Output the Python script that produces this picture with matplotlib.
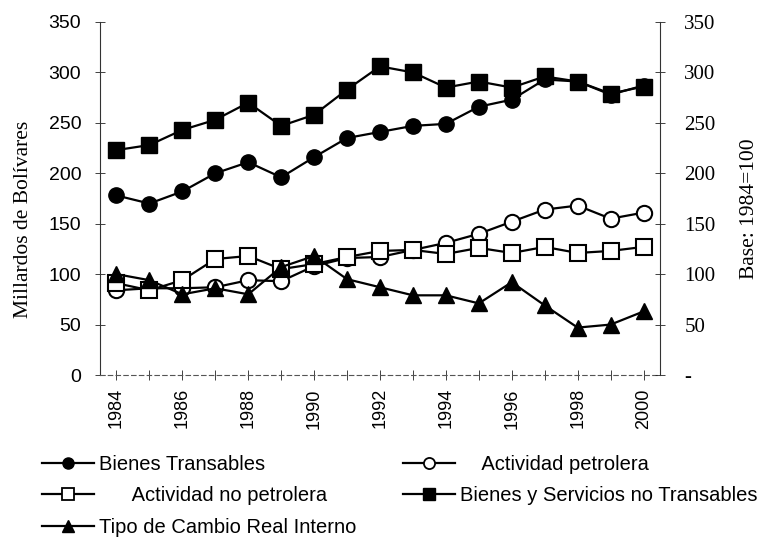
import matplotlib
matplotlib.use("Agg")
import matplotlib.pyplot as plt
from matplotlib.lines import Line2D

# datos
years = list(range(1984, 2001))
bienes_transables = [178, 170, 182, 200, 211, 196, 216, 235, 241, 247, 249, 266, 273, 293, 291, 278, 287]
actividad_petrolera = [84, 86, 86, 87, 94, 93, 108, 116, 117, 124, 131, 140, 152, 164, 168, 155, 161]
actividad_no_petrolera = [91, 84, 94, 115, 118, 105, 110, 117, 123, 124, 120, 126, 121, 127, 121, 123, 127]
no_transables = [223, 228, 243, 253, 270, 247, 258, 283, 306, 300, 285, 291, 285, 296, 291, 279, 286]
tipo_cambio = [100, 94, 80, 86, 80, 107, 118, 95, 87, 79, 79, 71, 92, 69, 47, 50, 63]

labels = ["Bienes Transables", "    Actividad petrolera", "      Actividad no petrolera",
          "Bienes y Servicios no Transables", "Tipo de Cambio Real Interno"]
y_ticks = [0, 50, 100, 150, 200, 250, 300, 350]

sans = "Liberation Sans"
serif = "Liberation Serif"

fig = plt.figure(figsize=(7.63, 5.53), dpi=100)
ax = fig.add_axes([100 / 763, 1 - 375 / 553, 560 / 763, 353 / 553])

lw = 1.6
ms = 11
ax.plot(years, bienes_transables, color="black", lw=lw, marker="o", ms=ms,
        mfc="black", mec="black", zorder=3)
ax.plot(years, actividad_petrolera, color="black", lw=lw, marker="o", ms=ms,
        mfc="white", mec="black", mew=1.5, zorder=3)
ax.plot(years, actividad_no_petrolera, color="black", lw=lw, marker="s", ms=ms,
        mfc="white", mec="black", mew=1.5, zorder=3)
ax.plot(years, no_transables, color="black", lw=lw, marker="s", ms=ms,
        mfc="black", mec="black", zorder=3)
ax.plot(years, tipo_cambio, color="black", lw=lw, marker="^", ms=ms + 1,
        mfc="black", mec="black", zorder=3)

ax.set_xlim(1983.5, 2000.5)
ax.set_ylim(0, 350)
ax.set_yticks(y_ticks)
ax.set_yticklabels([str(v) for v in y_ticks], fontfamily=sans, fontsize=14)
ax.set_xticks(years)
ax.set_xticklabels([str(y) if y % 2 == 0 else "" for y in years],
                   rotation=90, fontfamily=sans, fontsize=13)
ax.tick_params(axis="y", direction="inout", length=7, width=0.6, pad=10, colors="#222222",
               labelcolor="black")
ax.tick_params(axis="x", direction="inout", length=7, width=0.6, pad=6, colors="#222222",
               labelcolor="black")

ax.spines["top"].set_visible(False)
ax.spines["right"].set_visible(False)
ax.spines["left"].set_linewidth(0.8)
ax.spines["left"].set_color("#333333")
ax.spines["bottom"].set_linewidth(0.8)
ax.spines["bottom"].set_color("#555555")
ax.spines["bottom"].set_linestyle((0, (4, 3)))

ax.set_ylabel("Millardos de Bolívares", fontfamily=serif, fontsize=15.5)
ax.yaxis.set_label_coords(-0.12, 0.44)

ax2 = ax.twinx()
ax2.set_ylim(0, 350)
ax2.set_yticks(y_ticks)
ax2.set_yticklabels(["-" if v == 0 else str(v) for v in y_ticks],
                    fontfamily=serif, fontsize=15)
ax2.tick_params(axis="y", direction="inout", length=7, width=0.6, pad=14, colors="#222222",
                labelcolor="black")
for s in ["top", "left", "bottom"]:
    ax2.spines[s].set_visible(False)
ax2.spines["right"].set_linewidth(0.8)
ax2.spines["right"].set_color("#333333")
ax2.set_ylabel("Base: 1984=100", fontfamily=serif, fontsize=15.5)
ax2.yaxis.set_label_coords(1.143, 0.47)

# leyenda en dos columnas, tres filas
handles = [
    Line2D([], [], color="black", lw=lw, marker="o", ms=8, mfc="black", mec="black"),
    Line2D([], [], color="black", lw=lw, marker="o", ms=8, mfc="white", mec="black", mew=1.3),
    Line2D([], [], color="black", lw=lw, marker="s", ms=8, mfc="white", mec="black", mew=1.3),
    Line2D([], [], color="black", lw=lw, marker="s", ms=8, mfc="black", mec="black"),
    Line2D([], [], color="black", lw=lw, marker="^", ms=8, mfc="black", mec="black"),
]
order = [0, 2, 4, 1, 3]
fig.legend([handles[i] for i in order], [labels[i] for i in order],
           loc="upper left", bbox_to_anchor=(42 / 763, 1 - 455 / 553), ncol=2,
           frameon=False, prop={"family": sans, "size": 14.5}, handlelength=2.6,
           handletextpad=0.25, columnspacing=2.3, labelspacing=0.62, borderpad=0,
           borderaxespad=0)

fig.savefig("out.png", dpi=100)
